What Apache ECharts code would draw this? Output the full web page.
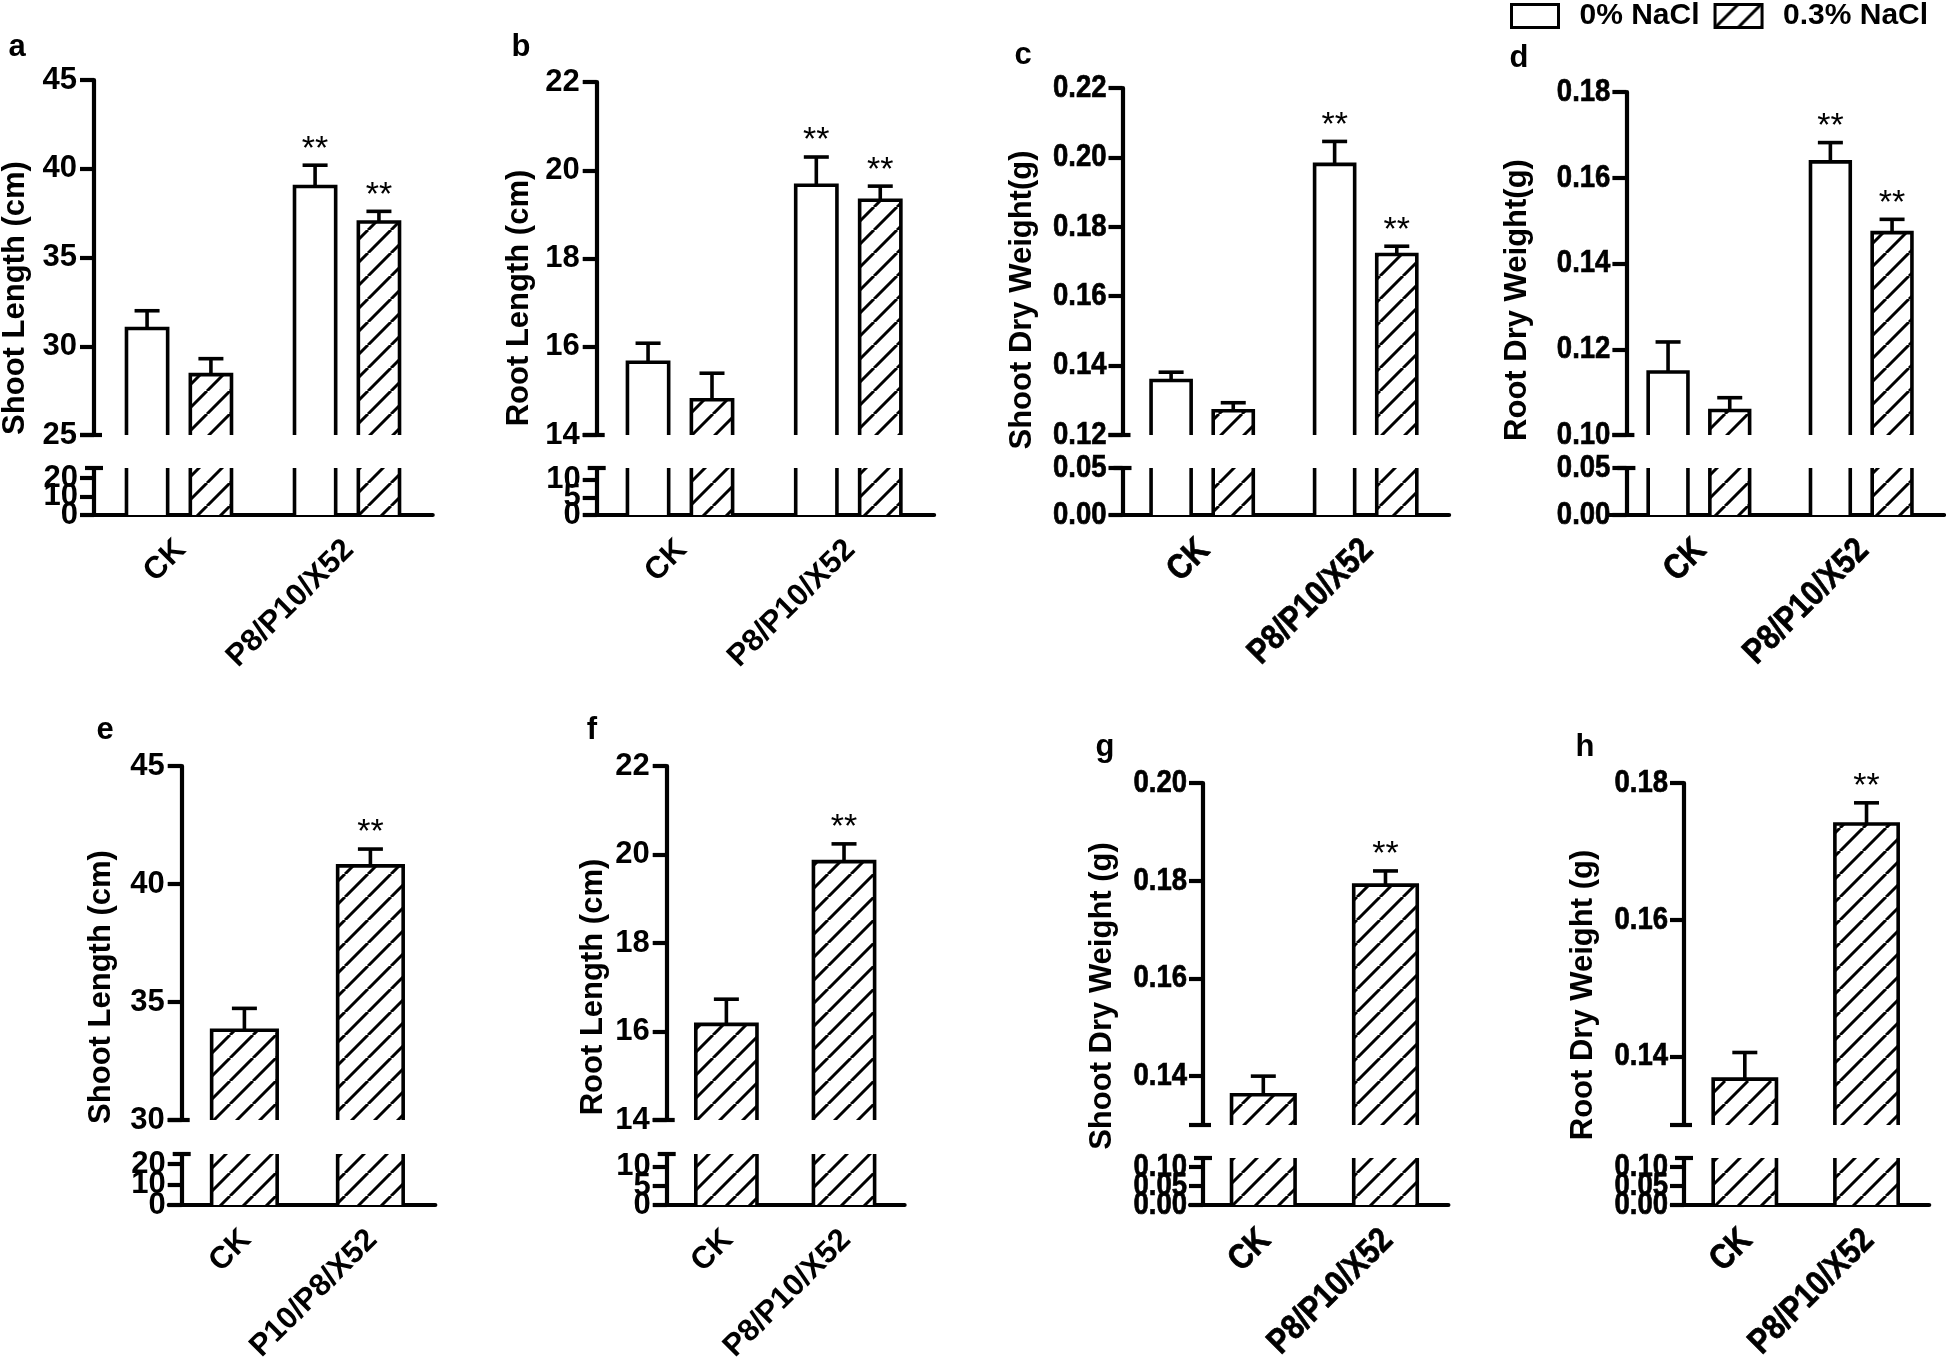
<!DOCTYPE html>
<html><head><meta charset="utf-8">
<script src="https://cdn.jsdelivr.net/npm/echarts@6/dist/echarts.min.js"></script>
<style>html,body{margin:0;padding:0;background:#fff}#c{width:1946px;height:1361px}</style>
</head><body><div id="c"></div>
<script>
// ---------------- DATA ----------------
const catsTop = ['CK', 'P8/P10/X52'];
const catsE = ['CK', 'P10/P8/X52'];
const catsBottom = ['CK', 'P8/P10/X52'];
const seriesNames = ['0% NaCl', '0.3% NaCl'];

// a: Shoot length (cm)
const shootLen0 = [31.0, 39.0];   const shootLen0Err = [1.0, 1.2];   const shootLen0Sig = ['', '**'];
const shootLen3 = [28.4, 37.0];   const shootLen3Err = [0.9, 0.6];   const shootLen3Sig = ['', '**'];
// b: Root length (cm)
const rootLen0 = [15.65, 19.66];  const rootLen0Err = [0.43, 0.64];  const rootLen0Sig = ['', '**'];
const rootLen3 = [14.8, 19.32];   const rootLen3Err = [0.6, 0.32];   const rootLen3Sig = ['', '**'];
// c: Shoot dry weight (g)
const shootDw0 = [0.1357, 0.198]; const shootDw0Err = [0.0024, 0.0066]; const shootDw0Sig = ['', '**'];
const shootDw3 = [0.127, 0.172];  const shootDw3Err = [0.0023, 0.0024]; const shootDw3Sig = ['', '**'];
// d: Root dry weight (g)
const rootDw0 = [0.1147, 0.1637]; const rootDw0Err = [0.007, 0.0045];  const rootDw0Sig = ['', '**'];
const rootDw3 = [0.1057, 0.1472]; const rootDw3Err = [0.003, 0.0031];  const rootDw3Sig = ['', '**'];
// e-h (hatched only)
const eShootLen = [33.8, 40.77];  const eShootLenErr = [0.93, 0.71];   const eSig = ['', '**'];
const fRootLen = [16.16, 19.84];  const fRootLenErr = [0.57, 0.40];    const fSig = ['', '**'];
const gShootDw = [0.1362, 0.1791]; const gShootDwErr = [0.0038, 0.0029]; const gSig = ['', '**'];
const hRootDw = [0.1367, 0.174];  const hRootDwErr = [0.0039, 0.0031];  const hSig = ['', '**'];

// tick labels
const ticksAUp = [25, 30, 35, 40, 45];         const ticksALo = [0, 10, 20];
const ticksBUp = [14, 16, 18, 20, 22];         const ticksBLo = [0, 5, 10];
const ticksCUp = [0.12, 0.14, 0.16, 0.18, 0.20, 0.22]; const ticksCLo = [0, 0.05];
const ticksDUp = [0.10, 0.12, 0.14, 0.16, 0.18]; const ticksDLo = [0, 0.05];
const ticksEUp = [30, 35, 40, 45];             const ticksELo = [0, 10, 20];
const ticksFUp = [14, 16, 18, 20, 22];         const ticksFLo = [0, 5, 10];
const ticksGUp = [0.14, 0.16, 0.18, 0.20];     const ticksGLo = [0, 0.05, 0.10];
const ticksHUp = [0.14, 0.16, 0.18];           const ticksHLo = [0, 0.05, 0.10];

// ---------------- STYLE ----------------
const LW = 3.6, AXW = 4.2;
const FW = '"Liberation Sans", Arial, sans-serif';
const NARROW = 0.86;   // horizontal squeeze used for the condensed lettering of panels c, d, g, h

function hatchCanvas() {
  const T = 23, cv = document.createElement('canvas');
  cv.width = T; cv.height = T;
  const ctx = cv.getContext('2d');
  ctx.fillStyle = '#fff'; ctx.fillRect(0, 0, T, T);
  ctx.strokeStyle = '#000'; ctx.lineWidth = 3;
  ctx.beginPath();
  for (const k of [-1, 0, 1]) { ctx.moveTo(k * T, T); ctx.lineTo(k * T + T, 0); }
  ctx.stroke();
  return cv;
}
const HATCH = { image: hatchCanvas(), repeat: 'repeat' };
const WHITE = '#ffffff';

const vTop = (t) => ({ top: t, ub: 435, lt: 468, base: 515 });
const vBotEF = { top: 766, ub: 1120, lt: 1154, base: 1205 };
const vBotGH = { top: 783, ub: 1125, lt: 1158, base: 1205 };

const panels = [
  { letter: 'a', letterXY: [17, 47], title: 'Shoot Length (cm)', titleXY: [15, 298], narrow: false, dec: 0,
    cats: catsTop, L: 84.9, R: 432.7, ax: 94, v: vTop(80), dom: [-0.56, 1.51], bw: 0.245, offs: [-0.19, 0.19],
    up: [25, 45, ticksAUp], lo: [0, 25.5, ticksALo],
    bars: [[seriesNames[0], shootLen0, shootLen0Err, shootLen0Sig, WHITE], [seriesNames[1], shootLen3, shootLen3Err, shootLen3Sig, HATCH]] },
  { letter: 'b', letterXY: [521, 47], title: 'Root Length (cm)', titleXY: [519, 298], narrow: false, dec: 0,
    cats: catsTop, L: 585.8, R: 934.1, ax: 596.7, v: vTop(82), dom: [-0.56, 1.51], bw: 0.245, offs: [-0.19, 0.19],
    up: [14, 22, ticksBUp], lo: [0, 13.4, ticksBLo],
    bars: [[seriesNames[0], rootLen0, rootLen0Err, rootLen0Sig, WHITE], [seriesNames[1], rootLen3, rootLen3Err, rootLen3Sig, HATCH]] },
  { letter: 'c', letterXY: [1023, 55], title: 'Shoot Dry Weight(g)', titleXY: [1022, 300], narrow: true, dec: 2,
    cats: catsTop, L: 1110.6, R: 1449.1, ax: 1122.5, v: vTop(88), dom: [-0.56, 1.51], bw: 0.245, offs: [-0.19, 0.19],
    up: [0.12, 0.22, ticksCUp], lo: [0, 0.05, ticksCLo],
    bars: [[seriesNames[0], shootDw0, shootDw0Err, shootDw0Sig, WHITE], [seriesNames[1], shootDw3, shootDw3Err, shootDw3Sig, HATCH]] },
  { letter: 'd', letterXY: [1519, 58], title: 'Root Dry Weight(g)', titleXY: [1517, 300], narrow: true, dec: 2,
    cats: catsTop, L: 1608, R: 1944, ax: 1626.4, v: vTop(92), dom: [-0.56, 1.51], bw: 0.245, offs: [-0.19, 0.19],
    up: [0.10, 0.18, ticksDUp], lo: [0, 0.05, ticksDLo],
    bars: [[seriesNames[0], rootDw0, rootDw0Err, rootDw0Sig, WHITE], [seriesNames[1], rootDw3, rootDw3Err, rootDw3Sig, HATCH]] },
  { letter: 'e', letterXY: [105, 730], title: 'Shoot Length (cm)', titleXY: [101, 987], narrow: false, dec: 0,
    cats: catsE, L: 168.8, R: 435.3, ax: 181.7, v: vBotEF, dom: [-0.6, 1.515], bw: 0.52, offs: [0],
    up: [30, 45, ticksEUp], lo: [0, 25, ticksELo],
    bars: [[seriesNames[1], eShootLen, eShootLenErr, eSig, HATCH]] },
  { letter: 'f', letterXY: [592, 730], title: 'Root Length (cm)', titleXY: [593, 987], narrow: false, dec: 0,
    cats: catsBottom, L: 655.8, R: 904.6, ax: 666.7, v: vBotEF, dom: [-0.6, 1.515], bw: 0.52, offs: [0],
    up: [14, 22, ticksFUp], lo: [0, 13.4, ticksFLo],
    bars: [[seriesNames[1], fRootLen, fRootLenErr, fSig, HATCH]] },
  { letter: 'g', letterXY: [1105, 747], title: 'Shoot Dry Weight (g)', titleXY: [1102, 996], narrow: true, dec: 2,
    cats: catsBottom, L: 1190, R: 1448.4, ax: 1203, v: vBotGH, dom: [-0.6, 1.515], bw: 0.52, offs: [0],
    up: [0.13, 0.20, ticksGUp], lo: [0, 0.124, ticksGLo],
    bars: [[seriesNames[1], gShootDw, gShootDwErr, gSig, HATCH]] },
  { letter: 'h', letterXY: [1585, 747], title: 'Root Dry Weight (g)', titleXY: [1583, 995], narrow: true, dec: 2,
    cats: catsBottom, L: 1671.8, R: 1929.2, ax: 1684, v: vBotGH, dom: [-0.6, 1.515], bw: 0.52, offs: [0],
    up: [0.13, 0.18, ticksHUp], lo: [0, 0.124, ticksHLo],
    bars: [[seriesNames[1], hRootDw, hRootDwErr, hSig, HATCH]] }
];

const grid = [], xAxis = [], yAxis = [], series = [], graphic = [];

function makeRender(p, k, fill, sig, isUpper) {
  return function (params, api) {
    const i = api.value(0), val = api.value(1), err = api.value(2);
    const cs = params.coordSys;
    const yB = cs.y + cs.height, yT = cs.y;
    const xc = i + p.offs[k];
    const xl = api.coord([xc - p.bw / 2, val])[0];
    const xr = api.coord([xc + p.bw / 2, val])[0];
    const cx = (xl + xr) / 2;
    const yv = api.coord([xc, val])[1];
    const open = yv < yT;
    const yt = open ? yT : yv;
    const ch = [];
    ch.push({ type: 'rect', shape: { x: xl, y: yt, width: xr - xl, height: yB - yt }, style: { fill: fill, stroke: null } });
    const ls = { stroke: '#000', lineWidth: LW, fill: 'none', lineJoin: 'miter', lineCap: 'butt' };
    if (open) {
      ch.push({ type: 'line', shape: { x1: xl, y1: yB, x2: xl, y2: yt }, style: ls });
      ch.push({ type: 'line', shape: { x1: xr, y1: yB, x2: xr, y2: yt }, style: ls });
    } else {
      ch.push({ type: 'polyline', shape: { points: [[xl, yB], [xl, yt], [xr, yt], [xr, yB]] }, style: ls });
      if (isUpper) {
        const ye = api.coord([xc, val + err])[1];
        const cap = 25;
        ch.push({ type: 'line', shape: { x1: cx, y1: yt, x2: cx, y2: ye }, style: ls });
        ch.push({ type: 'line', shape: { x1: cx - cap / 2, y1: ye, x2: cx + cap / 2, y2: ye }, style: ls });
        const s = sig[params.dataIndex];
        if (s) {
          ch.push({ type: 'text', x: cx, y: ye - 16, style: { text: s, fill: '#000', font: '34px ' + FW, align: 'center', verticalAlign: 'middle' } });
        }
      }
    }
    return { type: 'group', children: ch };
  };
}

panels.forEach((p) => {
  const gU = grid.length, gL = gU + 1;
  p.gL = gL;
  const v = p.v;
  grid.push({ left: p.L, width: p.R - p.L, top: v.top, height: v.ub - v.top });
  grid.push({ left: p.L, width: p.R - p.L, top: v.lt, height: v.base - v.lt });
  p.fmt = (x) => p.dec ? x.toFixed(p.dec) : String(Math.round(x));
  xAxis.push({ gridIndex: gU, type: 'value', min: p.dom[0], max: p.dom[1], show: false });
  xAxis.push({ gridIndex: gL, type: 'value', min: p.dom[0], max: p.dom[1],
    axisLine: { show: true, onZero: false, lineStyle: { color: '#000', width: AXW } },
    axisTick: { show: false }, splitLine: { show: false }, axisLabel: { show: false } });
  const yCommon = (min, max, ticks, showLabel) => ({
    type: 'value', min: min, max: max, offset: p.L - p.ax,
    axisLine: { show: true, onZero: false, lineStyle: { color: '#000', width: AXW } },
    axisTick: { show: true, customValues: ticks, length: 14, inside: false, lineStyle: { color: '#000', width: AXW } },
    axisLabel: { show: showLabel, customValues: ticks, formatter: p.fmt, fontSize: 31, fontWeight: 'bold', fontFamily: FW, color: '#000',
      margin: 17, hideOverlap: false, showMinLabel: true, showMaxLabel: true },
    splitLine: { show: false }
  });
  const yU = yAxis.length;
  p.yU = yU;
  yAxis.push(Object.assign({ gridIndex: gU }, yCommon(p.up[0], p.up[1], p.up[2], !p.narrow)));
  yAxis.push(Object.assign({ gridIndex: gL }, yCommon(p.lo[0], p.lo[1], p.lo[2], false)));
  p.bars.forEach((b, k) => {
    const data = p.cats.map((c, i) => [i, b[1][i], b[2][i]]);
    [true, false].forEach((isUpper) => {
      series.push({ type: 'custom', name: b[0], coordinateSystem: 'cartesian2d',
        xAxisIndex: isUpper ? gU : gL, yAxisIndex: isUpper ? yU : yU + 1,
        data: data, clip: false, silent: true,
        encode: { x: 0, y: 1 },
        itemStyle: { color: b[4] === HATCH ? HATCH : '#fff', borderColor: '#000' },
        renderItem: makeRender(p, k, b[4], b[3], isUpper) });
    });
  });
  graphic.push({ type: 'text', x: p.letterXY[0], y: p.letterXY[1],
    style: { text: p.letter, font: 'bold 31px ' + FW, fill: '#000', align: 'center', verticalAlign: 'middle' } });
  graphic.push({ type: 'text', x: p.titleXY[0], y: p.titleXY[1], rotation: Math.PI / 2,
    style: { text: p.title, font: 'bold 31px ' + FW, fill: '#000', align: 'center', verticalAlign: 'middle' } });
  graphic.push({ type: 'line', shape: { x1: p.ax - 14, y1: v.ub, x2: p.ax + 8, y2: v.ub }, style: { stroke: '#000', lineWidth: AXW } });
  graphic.push({ type: 'line', shape: { x1: p.ax - 9, y1: v.lt, x2: p.ax + 9, y2: v.lt }, style: { stroke: '#000', lineWidth: AXW } });
});

const chart = echarts.init(document.getElementById('c'), null, { renderer: 'canvas', width: 1946, height: 1361 });
chart.setOption({
  animation: false,
  backgroundColor: '#fff',
  legend: { left: 1510, top: 1, padding: 0, itemWidth: 47, itemHeight: 23, itemGap: 14, icon: 'rect', selectedMode: false,
    data: [
      { name: seriesNames[0], itemStyle: { color: '#fff', borderColor: '#000', borderWidth: 3 } },
      { name: seriesNames[1], itemStyle: { color: HATCH, borderColor: '#000', borderWidth: 3 } }
    ],
    textStyle: { fontSize: 30, fontWeight: 'bold', fontFamily: FW, color: '#000', padding: [0, 0, 0, 16] } },
  grid: grid, xAxis: xAxis, yAxis: yAxis, series: series
});

// tick labels that sit too close to be laid out by the axis (broken lower segments, condensed panels),
// and the rotated category labels, all placed through each panel's own scales
panels.forEach((p) => {
  const sx = p.narrow ? NARROW : 1;
  const thick = p.narrow ? { stroke: '#000', lineWidth: 0.7 } : {};
  const tickFont = 'bold ' + (p.narrow ? 32 : 31) + 'px ' + FW;
  const segs = p.narrow ? [[p.yU, p.up[2]], [p.yU + 1, p.lo[2]]] : [[p.yU + 1, p.lo[2]]];
  segs.forEach(([yi, ticks]) => {
    ticks.forEach((t) => {
      const py = chart.convertToPixel({ yAxisIndex: yi }, t);
      graphic.push({ type: 'text', x: p.ax - 16, y: py, scaleX: sx,
        style: Object.assign({ text: p.fmt(t), font: tickFont, fill: '#000', align: 'right', verticalAlign: 'middle' }, thick) });
    });
  });
  p.cats.forEach((c, i) => {
    const px = chart.convertToPixel({ xAxisIndex: p.gL }, i);
    graphic.push({ type: 'text', x: px + 2, y: p.v.base + 30, rotation: Math.PI / 4, scaleX: sx,
      style: Object.assign({ text: c, font: 'bold ' + (p.narrow ? 35 : 31) + 'px ' + FW, fill: '#000', align: 'right', verticalAlign: 'middle' }, thick) });
  });
});
chart.setOption({ graphic: graphic });
</script></body></html>
